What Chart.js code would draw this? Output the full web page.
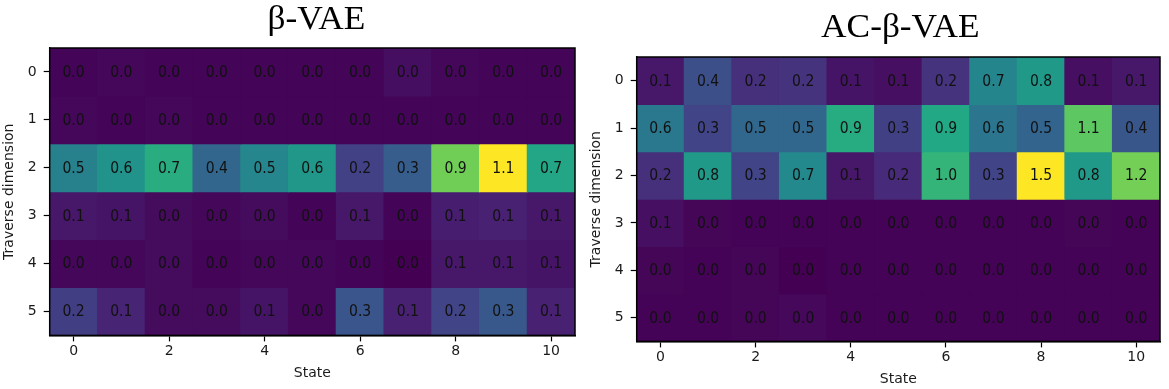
<!DOCTYPE html>
<html>
<head>
<meta charset="utf-8">
<script src="https://cdn.jsdelivr.net/npm/chart.js@4"></script>
<style>
  html, body { margin: 0; padding: 0; background: #fff; }
  .panel { position: absolute; top: 0; height: 389px; }
  #left  { left: 0;     width: 585px; }
  #right { left: 585px; width: 584px; }
</style>
</head>
<body>
<div class="panel" id="left"><canvas id="beta-chart"></canvas></div>
<div class="panel" id="right"><canvas id="acbeta-chart"></canvas></div>
<script>
const states     = [0, 1, 2, 3, 4, 5, 6, 7, 8, 9, 10];
const dims       = [0, 1, 2, 3, 4, 5];
const stateTicks = [0, 2, 4, 6, 8, 10];

// values per traverse dimension (rows), per state (columns)
const betaVae = [
  [0.01, 0.02, 0.01, 0.01, 0.01, 0.01, 0.01, 0.04, 0.02, 0.01, 0.01],
  [0.02, 0.01, 0.02, 0.01, 0.01, 0.01, 0.01, 0.01, 0.01, 0.01, 0.01],
  [0.48, 0.56, 0.68, 0.36, 0.50, 0.58, 0.21, 0.32, 0.86, 1.10, 0.65],
  [0.07, 0.06, 0.03, 0.02, 0.03, 0.01, 0.07, 0.01, 0.09, 0.10, 0.07],
  [0.02, 0.02, 0.03, 0.01, 0.02, 0.02, 0.01, 0.00, 0.07, 0.07, 0.06],
  [0.20, 0.11, 0.03, 0.03, 0.06, 0.02, 0.29, 0.10, 0.22, 0.30, 0.10],
];
const acBetaVae = [
  [0.10, 0.36, 0.20, 0.22, 0.08, 0.06, 0.22, 0.68, 0.80, 0.06, 0.10],
  [0.60, 0.30, 0.50, 0.50, 0.92, 0.28, 0.90, 0.58, 0.48, 1.12, 0.40],
  [0.20, 0.80, 0.30, 0.70, 0.10, 0.18, 0.98, 0.30, 1.50, 0.80, 1.18],
  [0.06, 0.02, 0.01, 0.01, 0.01, 0.01, 0.01, 0.01, 0.01, 0.02, 0.01],
  [0.02, 0.01, 0.02, 0.00, 0.01, 0.01, 0.01, 0.01, 0.01, 0.01, 0.01],
  [0.01, 0.01, 0.02, 0.03, 0.01, 0.01, 0.01, 0.01, 0.01, 0.01, 0.01],
];

const viridisStops = ['#440154', '#482475', '#414487', '#355f8d', '#2a788e', '#21918c',
                      '#22a884', '#44bf70', '#7ad151', '#bddf26', '#fde725'];

function hexToRgb(h) {
  return [1, 3, 5].map(i => parseInt(h.substr(i, 2), 16));
}

function viridis(t) {
  t = Math.max(0, Math.min(1, t));
  const pos = t * (viridisStops.length - 1);
  const i   = Math.min(Math.floor(pos), viridisStops.length - 2);
  const f   = pos - i;
  const a   = hexToRgb(viridisStops[i]);
  const b   = hexToRgb(viridisStops[i + 1]);
  const c   = a.map((v, k) => Math.round(v + (b[k] - v) * f));
  return 'rgb(' + c.join(',') + ')';
}

// cell numbers, frame and panel title
const heatDecor = {
  id: 'heatDecor',
  afterDatasetsDraw(chart) {
    const ctx  = chart.ctx;
    const xs   = chart.scales.x;
    const ys   = chart.scales.y;
    const grid = chart.options.plugins.heatDecor.values;
    ctx.save();
    ctx.fillStyle    = '#111';
    ctx.font         = '14px "DejaVu Sans"';
    ctx.textAlign    = 'center';
    ctx.textBaseline = 'middle';
    grid.forEach((row, r) => {
      row.forEach((v, c) => {
        const px = xs.getPixelForValue(states[c]);
        const py = ys.getPixelForValue(dims[r]) + 1;
        ctx.save();
        ctx.translate(px, py);
        ctx.scale(1, 1.08);
        ctx.fillText(v.toFixed(1), 0, 0);
        ctx.restore();
      });
    });
    ctx.restore();
  },
  afterDraw(chart) {
    const a   = chart.chartArea;
    const ctx = chart.ctx;
    const o   = chart.options.plugins.heatDecor;
    ctx.save();
    ctx.strokeStyle = '#000';
    ctx.lineWidth   = 1.5;
    ctx.strokeRect(a.left, a.top, a.right - a.left, a.bottom - a.top);
    ctx.fillStyle    = '#000';
    ctx.font         = '33px "Liberation Serif"';
    ctx.textAlign    = 'center';
    ctx.textBaseline = 'alphabetic';
    ctx.translate((a.left + a.right) / 2 + o.titleShift, o.titleY);
    ctx.scale(1.07, 1);
    ctx.fillText(o.title, 0, 0);
    ctx.restore();
  }
};

function makeHeatmap(id, title, grid, pad, titleY, titleShift) {
  const max = Math.max(...grid.flat());
  const min = Math.min(...grid.flat());
  const datasets = grid.map((row, r) => ({
    data: row.map((v, c) => ({ x: states[c], y: [dims[r] - 0.5, dims[r] + 0.5] })),
    backgroundColor: row.map(v => viridis((v - min) / (max - min))),
    borderWidth: 0,
    grouped: false,
    barPercentage: 1,
    categoryPercentage: 1,
    inflateAmount: 0.5,
  }));
  const tickFont  = { family: 'DejaVu Sans', size: 14 };
  return new Chart(document.getElementById(id), {
    type: 'bar',
    data: { datasets },
    options: {
      responsive: true,
      maintainAspectRatio: false,
      animation: false,
      layout: { padding: pad },
      plugins: {
        legend: { display: false },
        tooltip: { enabled: false },
        title: { display: false },
        heatDecor: { values: grid, title, titleY, titleShift },
      },
      scales: {
        x: {
          type: 'linear',
          offset: false,
          min: -0.5,
          max: 10.5,
          afterBuildTicks: s => { s.ticks = stateTicks.map(v => ({ value: v })); },
          ticks: { color: '#1a1a1a', font: tickFont, padding: 2 },
          grid: { offset: false, drawOnChartArea: false, tickLength: 6, tickColor: '#000', tickWidth: 1.2 },
          border: { color: '#000', width: 1.5 },
          title: { display: true, text: 'State', color: '#1a1a1a', font: tickFont, padding: { top: 3, bottom: 0 } },
        },
        y: {
          type: 'linear',
          reverse: true,
          min: -0.5,
          max: 5.5,
          afterBuildTicks: s => { s.ticks = dims.map(v => ({ value: v })); },
          ticks: { color: '#1a1a1a', font: tickFont, padding: 7 },
          grid: { drawOnChartArea: false, tickLength: 6, tickColor: '#000', tickWidth: 1.2 },
          border: { color: '#000', width: 1.5 },
          title: { display: true, text: 'Traverse dimension', color: '#1a1a1a', font: tickFont, padding: { top: 0, bottom: 3 } },
        },
      },
    },
    plugins: [heatDecor],
  });
}

makeHeatmap('beta-chart',   'β-VAE',    betaVae,   { left: 1, right: 10, top: 48, bottom: 7 }, 29, 4);
makeHeatmap('acbeta-chart', 'AC-β-VAE', acBetaVae, { left: 3, right: 9, top: 57, bottom: 1 }, 37, 2);
</script>
</body>
</html>
